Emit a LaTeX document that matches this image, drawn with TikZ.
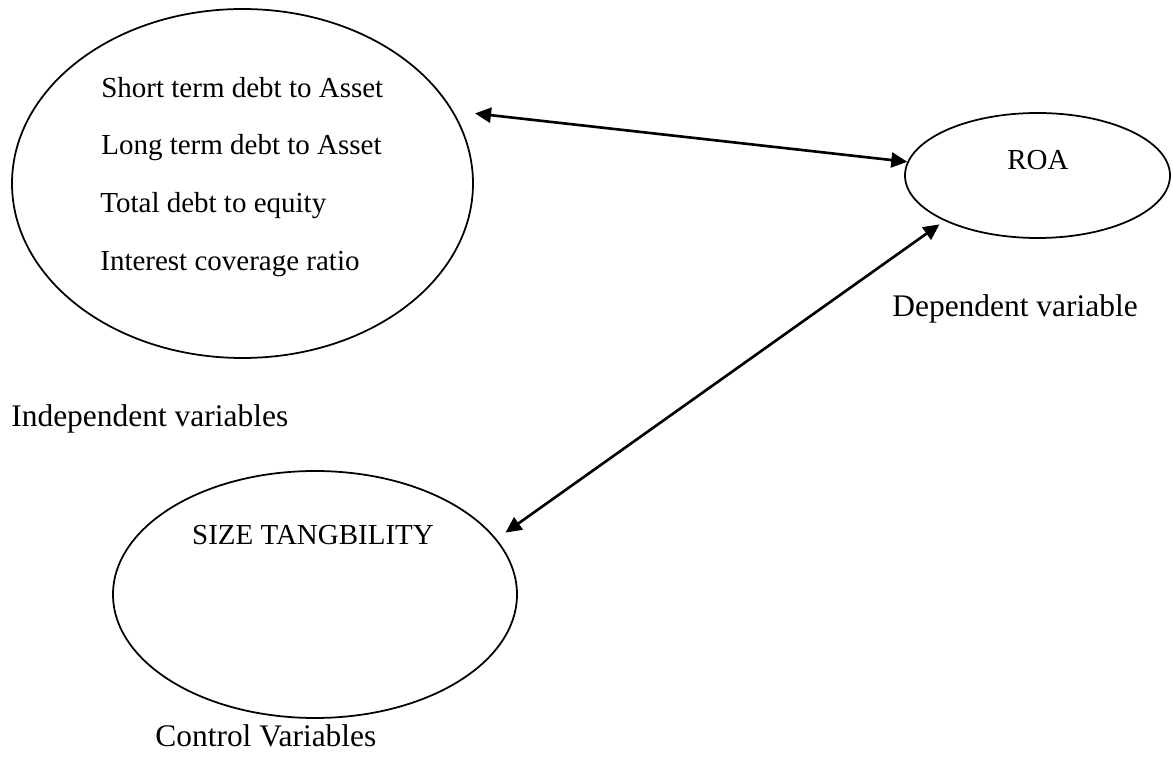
\documentclass[tikz,border=0pt]{standalone}
\usepackage{fontspec}
\setmainfont{Liberation Serif}
\usetikzlibrary{arrows.meta,shapes.geometric}

\begin{document}
\begin{tikzpicture}[%
      oval/.style={draw=black, line width=1pt, ellipse, inner sep=0pt},
      biarrow/.style={line width=1.5pt,
        {Triangle[length=0.32cm,width=0.3cm]}-{Triangle[length=0.32cm,width=0.3cm]}},
      intext/.style={anchor=base west, inner sep=0pt, font=\fontsize{16.5}{19}\selectfont},
      outtext/.style={anchor=base west, inner sep=0pt, font=\fontsize{17.9}{21}\selectfont},
      ]
      \useasboundingbox (0,0) rectangle (23.46,15.44);

      \node [oval, minimum width=9.22cm, minimum height=6.98cm] (indep) at (4.85,11.77) {};
      \node [oval, minimum width=5.3cm, minimum height=2.5cm] (roa) at (20.75,11.93) {};
      \node [oval, minimum width=8.08cm, minimum height=4.94cm] (ctrl) at (6.30,3.55) {};

      \node [intext] (stda) at (2.02,13.48) {Short term debt to Asset};
      \node [intext] (ltda) at (2.02,12.34) {Long term debt to Asset};
      \node [intext] (tde) at (2.00,11.18) {Total debt to equity};
      \node [intext] (icr) at (2.00,10.02) {Interest coverage ratio};
      \node [intext, anchor=base] (roatxt) at (20.76,12.04) {ROA};
      \node [intext, anchor=base] (sizetxt) at (6.26,4.54) {SIZE TANGBILITY};

      \node [outtext] (indeplbl) at (0.22,6.90) {Independent variables};
      \node [outtext] (deplbl) at (17.84,9.10) {Dependent variable};
      \node [outtext] (ctrllbl) at (3.10,0.50) {Control Variables};

      \draw [biarrow, shorten >=0.44cm] (roa.174) -- (indep.19);
      \draw [biarrow, shorten <=0.12cm, shorten >=0.22cm] (roa.206) -- (ctrl.17);
      \end{tikzpicture}
\end{document}
